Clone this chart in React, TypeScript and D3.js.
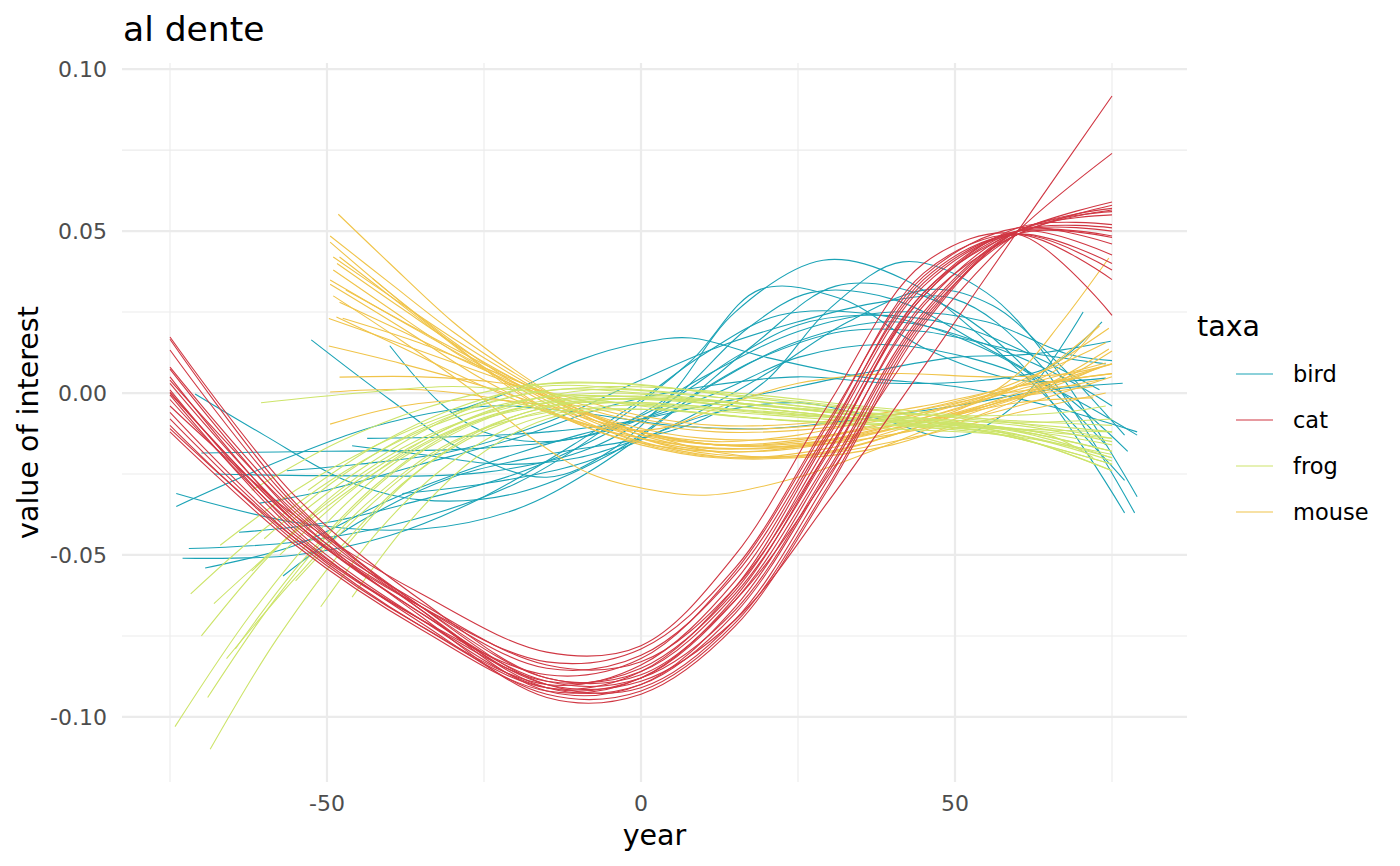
import React from "react";
import * as d3 from "d3";

type Pt = [number, number];

const taxa = ["bird", "cat", "frog", "mouse"];
const taxaColors: Record<string, string> = {
  bird: "#1BA3B6",
  cat: "#D03743",
  frog: "#CDE46A",
  mouse: "#F0C44A",
};

const xMajorTicks = [-50, 0, 50];
const xMinorTicks = [-75, -25, 25, 75];
const yMajorTicks = [-0.1, -0.05, 0, 0.05, 0.1];
const yMajorLabels = ["-0.10", "-0.05", "0.00", "0.05", "0.10"];
const yMinorTicks = [-0.075, -0.025, 0.025, 0.075];

// cat: values at fixed years
const catYears = [-75, -55, -35, -15, 0, 15, 30, 45, 60, 75];
const catValues: number[][] = [
  [0.000, -0.040, -0.068, -0.090, -0.089, -0.070, -0.033, 0.008, 0.050, 0.0917],
  [0.008, -0.036, -0.066, -0.088, -0.087, -0.064, -0.025, 0.018, 0.050, 0.074],
  [-0.004, -0.038, -0.062, -0.080, -0.078, -0.050, -0.003, 0.040, 0.049, 0.024],
  [0.0173, -0.032, -0.064, -0.088, -0.086, -0.062, -0.018, 0.031, 0.050, 0.059],
  [0.0166, -0.034, -0.067, -0.092, -0.090, -0.066, -0.021, 0.028, 0.049, 0.058],
  [0.0133, -0.035, -0.066, -0.090, -0.091, -0.070, -0.026, 0.023, 0.049, 0.0565],
  [0.0074, -0.038, -0.069, -0.094, -0.093, -0.072, -0.029, 0.021, 0.050, 0.056],
  [0.005, -0.040, -0.068, -0.089, -0.088, -0.067, -0.023, 0.025, 0.050, 0.055],
  [0.003, -0.039, -0.065, -0.084, -0.083, -0.060, -0.017, 0.030, 0.051, 0.052],
  [0.001, -0.042, -0.070, -0.091, -0.088, -0.064, -0.020, 0.027, 0.050, 0.051],
  [0.0003, -0.040, -0.066, -0.085, -0.081, -0.056, -0.011, 0.034, 0.050, 0.0485],
  [-0.0006, -0.043, -0.071, -0.093, -0.092, -0.071, -0.028, 0.022, 0.049, 0.048],
  [-0.002, -0.041, -0.066, -0.083, -0.079, -0.054, -0.008, 0.036, 0.051, 0.046],
  [-0.006, -0.044, -0.070, -0.089, -0.085, -0.061, -0.015, 0.031, 0.050, 0.0426],
  [-0.008, -0.045, -0.072, -0.091, -0.086, -0.060, -0.013, 0.033, 0.049, 0.040],
  [-0.010, -0.046, -0.072, -0.090, -0.084, -0.058, -0.012, 0.035, 0.049, 0.038],
  [-0.011, -0.045, -0.070, -0.087, -0.082, -0.055, -0.009, 0.037, 0.049, 0.035],
  [0.004, -0.037, -0.067, -0.091, -0.090, -0.068, -0.024, 0.024, 0.050, 0.057],
  [-0.012, -0.047, -0.073, -0.092, -0.088, -0.063, -0.017, 0.030, 0.050, 0.050],
];

const birdLines: Pt[][] = [
  [[-52.5, 0.0164], [-40, -0.002], [-28, -0.018], [-15, -0.026], [-5, -0.018], [5, 0.0], [15, 0.025], [29, 0.041], [42, 0.035], [55, 0.016], [66, -0.004], [77, -0.027]],
  [[-57, -0.0565], [-45, -0.04], [-30, -0.026], [-15, -0.019], [0, -0.014], [10, -0.008], [20, 0.004], [30, 0.026], [41.7, 0.0405], [55, 0.031], [67, 0.005], [79, -0.032]],
  [[-40, 0.0146], [-32, -0.003], [-25, -0.012], [-15, -0.015], [-5, -0.011], [5, -0.002], [15, 0.011], [25, 0.021], [35, 0.024], [50, 0.021], [63, 0.011], [73, 0.001]],
  [[-74, -0.031], [-55, -0.04], [-35, -0.042], [-20, -0.036], [-8, -0.024], [5, -0.006], [18, 0.015], [31, 0.033], [45, 0.03], [60, 0.01], [77, -0.037]],
  [[-74, -0.035], [-55, -0.019], [-40, -0.009], [-24, -0.004], [-10, -0.006], [5, -0.01], [20, -0.011], [35, -0.008], [50, -0.004], [65, 0.001], [76.7, 0.003]],
  [[-71, -0.0003], [-60, -0.013], [-47, -0.027], [-35, -0.033], [-20, -0.031], [-5, -0.019], [10, 0.001], [25, 0.016], [40, 0.022], [55, 0.015], [68, 0.004], [75, -0.004]],
  [[-70, -0.0185], [-50, -0.018], [-25, -0.017], [-8, -0.013], [5, -0.004], [18, 0.01], [32, 0.019], [45, 0.019], [60, 0.013], [74, 0.009]],
  [[-68, -0.025], [-50, -0.0255], [-25, -0.0245], [-8, -0.017], [5, -0.002], [17, 0.02], [27, 0.031], [40, 0.029], [55, 0.014], [67, 0.0], [77.5, -0.018]],
  [[-72, -0.048], [-55, -0.046], [-38, -0.04], [-20, -0.028], [-5, -0.01], [8, 0.01], [19, 0.032], [32, 0.029], [45, 0.014], [60, 0.004], [74, 0.0046]],
  [[-73, -0.051], [-55, -0.05], [-40, -0.044], [-25, -0.032], [-10, -0.015], [0, -0.002], [10, 0.012], [22, 0.024], [38, 0.024], [52, 0.016], [64, 0.003], [74, -0.016]],
  [[-69.4, -0.054], [-55, -0.047], [-40, -0.033], [-25, -0.022], [-10, -0.013], [5, -0.006], [20, 0.0], [35, 0.006], [50, 0.011], [62, 0.012], [74.8, 0.016]],
  [[-56.4, -0.024], [-45, -0.022], [-30, -0.018], [-15, -0.009], [0, 0.004], [12, 0.014], [25, 0.022], [38, 0.028], [50, 0.029], [63, 0.01], [78.6, -0.037]],
  [[-43.6, -0.014], [-30, -0.0135], [-15, -0.012], [0, -0.008], [12, 0.0], [25, 0.011], [38, 0.015], [52, 0.011], [65, 0.002], [79, -0.013]],
  [[-46, -0.0163], [-35, -0.019], [-22, -0.022], [-10, -0.02], [0, -0.014], [12, -0.006], [25, -0.003], [38, -0.008], [50, -0.0136], [60, -0.003], [70.4, 0.025]],
  [[-60.7, -0.034], [-50, -0.03], [-35, -0.022], [-20, -0.014], [-5, -0.004], [10, 0.002], [25, 0.005], [40, 0.003], [55, 0.004], [65, 0.008], [73.4, 0.022]],
  [[-30, -0.006], [-20, 0.001], [-10, 0.01], [0, 0.0155], [8, 0.017], [20, 0.011], [35, 0.005], [50, 0.002], [65, -0.004], [79, -0.012]],
  [[-38, -0.031], [-25, -0.028], [-10, -0.022], [5, -0.01], [20, 0.006], [33, 0.022], [46, 0.032], [56, 0.027], [66, 0.01], [77, -0.013]],
  [[-64, -0.043], [-50, -0.04], [-35, -0.033], [-20, -0.025], [-5, -0.012], [10, 0.005], [25, 0.019], [40, 0.025], [55, 0.022], [68, 0.012], [75, 0.01]],
];

const frogLines: Pt[][] = [
  [[-74.2, -0.103], [-62, -0.068], [-50, -0.04], [-38, -0.02], [-25, -0.008], [-10, -0.003], [5, -0.004], [25, -0.007], [45, -0.009], [60, -0.012], [75, -0.02]],
  [[-68.6, -0.11], [-58, -0.076], [-46, -0.045], [-34, -0.022], [-20, -0.008], [-5, -0.003], [15, -0.005], [35, -0.008], [55, -0.01], [75, -0.016]],
  [[-69, -0.094], [-58, -0.063], [-46, -0.036], [-34, -0.017], [-20, -0.005], [-5, -0.001], [15, -0.004], [35, -0.008], [55, -0.011], [75, -0.024]],
  [[-71.7, -0.062], [-60, -0.042], [-47, -0.024], [-33, -0.01], [-18, -0.002], [0, -0.001], [20, -0.004], [40, -0.008], [58, -0.012], [75, -0.02]],
  [[-68, -0.065], [-57, -0.046], [-45, -0.028], [-32, -0.013], [-18, -0.004], [0, -0.003], [20, -0.006], [40, -0.009], [58, -0.011], [75, -0.014]],
  [[-67, -0.047], [-55, -0.03], [-42, -0.016], [-28, -0.005], [-14, 0.001], [0, 0.0], [20, -0.004], [40, -0.008], [58, -0.011], [75, -0.018]],
  [[-51, -0.066], [-42, -0.043], [-32, -0.024], [-20, -0.01], [-5, -0.004], [15, -0.006], [35, -0.009], [55, -0.012], [75, -0.022]],
  [[-46, -0.063], [-37, -0.04], [-27, -0.021], [-15, -0.008], [0, -0.005], [20, -0.008], [40, -0.011], [58, -0.013], [75, -0.019]],
  [[-60.5, -0.003], [-45, 0.0], [-30, 0.002], [-15, 0.0], [0, -0.004], [20, -0.008], [40, -0.01], [58, -0.011], [75, -0.012]],
  [[-57.5, -0.05], [-46, -0.03], [-34, -0.014], [-20, -0.003], [-5, 0.0], [15, -0.003], [35, -0.006], [55, -0.007], [67, -0.006], [74, -0.004]],
  [[-64.6, -0.079], [-54, -0.052], [-42, -0.028], [-30, -0.012], [-15, -0.003], [0, -0.002], [20, -0.005], [40, -0.009], [60, -0.013], [75, -0.021]],
  [[-56, -0.04], [-45, -0.024], [-32, -0.009], [-18, 0.002], [-3, 0.003], [15, -0.001], [35, -0.005], [55, -0.008], [75, -0.01]],
  [[-62, -0.055], [-50, -0.034], [-37, -0.017], [-23, -0.005], [-8, 0.001], [10, -0.001], [30, -0.005], [50, -0.009], [65, -0.013], [72, -0.02]],
  [[-53, -0.03], [-42, -0.016], [-30, -0.005], [-16, 0.002], [0, 0.001], [20, -0.003], [40, -0.007], [60, -0.01], [75, -0.015]],
  [[-66, -0.082], [-55, -0.057], [-43, -0.033], [-30, -0.015], [-15, -0.006], [0, -0.005], [20, -0.008], [40, -0.01], [60, -0.014], [75, -0.024]],
  [[-60, -0.045], [-48, -0.026], [-35, -0.011], [-20, -0.001], [-5, 0.002], [15, 0.0], [35, -0.004], [55, -0.008], [75, -0.014]],
  [[-55, -0.058], [-45, -0.038], [-33, -0.019], [-20, -0.007], [-5, -0.002], [15, -0.003], [35, -0.007], [55, -0.01], [75, -0.018]],
  [[-62, -0.03], [-48, -0.015], [-35, -0.005], [-20, 0.002], [-5, 0.003], [12, 0.0], [32, -0.004], [52, -0.008], [70, -0.011], [75, -0.012]],
  [[-48, -0.048], [-38, -0.028], [-26, -0.012], [-12, -0.003], [5, -0.002], [25, -0.005], [45, -0.008], [62, -0.009], [75, -0.008]],
  [[-70, -0.075], [-60, -0.052], [-48, -0.03], [-35, -0.014], [-20, -0.004], [-5, -0.001], [15, -0.004], [35, -0.008], [55, -0.012], [75, -0.022]],
];

const mouseLines: Pt[][] = [
  [[-48.2, 0.0552], [-40, 0.04], [-30, 0.022], [-20, 0.007], [-10, -0.005], [0, -0.013], [10, -0.017], [25, -0.016], [40, -0.01], [55, -0.002], [65, 0.008], [74.5, 0.02]],
  [[-49.5, 0.0485], [-40, 0.034], [-30, 0.019], [-20, 0.006], [-10, -0.005], [0, -0.012], [12, -0.016], [25, -0.015], [40, -0.009], [55, -0.001], [66, 0.007], [73, 0.0213]],
  [[-49.5, 0.0466], [-40, 0.031], [-30, 0.016], [-20, 0.003], [-10, -0.007], [0, -0.014], [12, -0.018], [25, -0.017], [40, -0.011], [55, -0.004], [65, 0.003], [74.5, 0.0136]],
  [[-48.4, 0.04], [-38, 0.026], [-28, 0.013], [-18, 0.002], [-8, -0.008], [3, -0.014], [15, -0.016], [30, -0.013], [45, -0.006], [60, 0.002], [74, 0.0093]],
  [[-49, 0.038], [-40, 0.026], [-30, 0.013], [-20, 0.002], [-10, -0.008], [2, -0.016], [15, -0.02], [30, -0.018], [45, -0.01], [60, -0.001], [73, 0.0077]],
  [[-49.5, 0.0349], [-38, 0.022], [-25, 0.008], [-12, -0.004], [0, -0.012], [12, -0.015], [25, -0.013], [40, -0.007], [55, 0.0], [68, 0.01], [74, 0.0155]],
  [[-49.5, 0.0336], [-38, 0.02], [-25, 0.004], [-12, -0.008], [0, -0.016], [12, -0.02], [28, -0.019], [45, -0.01], [60, 0.0], [75, 0.009]],
  [[-47, 0.0318], [-35, 0.019], [-22, 0.006], [-10, -0.005], [0, -0.012], [12, -0.016], [28, -0.015], [42, -0.01], [52, -0.004], [60, 0.006], [67, 0.022], [74.5, 0.0417]],
  [[-42.8, 0.0355], [-35, 0.023], [-25, 0.008], [-15, -0.005], [-5, -0.013], [5, -0.017], [18, -0.018], [32, -0.014], [48, -0.006], [62, 0.002], [75, 0.006]],
  [[-49.7, 0.023], [-38, 0.015], [-25, 0.006], [-12, -0.003], [0, -0.009], [12, -0.012], [28, -0.011], [45, -0.006], [60, 0.002], [73, 0.0207]],
  [[-48.5, 0.0235], [-38, 0.014], [-25, 0.002], [-12, -0.008], [0, -0.014], [12, -0.017], [28, -0.016], [45, -0.009], [60, -0.003], [72, -0.0015]],
  [[-47.5, 0.0231], [-36, 0.016], [-24, 0.007], [-12, -0.002], [0, -0.008], [12, -0.011], [28, -0.01], [45, -0.005], [58, 0.0], [70, 0.0025]],
  [[-49.7, 0.0145], [-38, 0.009], [-25, 0.002], [-12, -0.006], [0, -0.012], [12, -0.016], [28, -0.016], [45, -0.011], [60, -0.004], [75, 0.005]],
  [[-48, 0.0049], [-35, 0.005], [-22, 0.003], [-10, -0.002], [0, -0.007], [12, -0.01], [28, -0.009], [45, -0.004], [60, 0.002], [75, 0.006]],
  [[-49.5, -0.0096], [-38, -0.004], [-25, -0.002], [-12, -0.005], [0, -0.012], [11, -0.018], [25, -0.02], [40, -0.016], [55, -0.006], [68, 0.005], [75, 0.013]],
  [[-49, 0.03], [-38, 0.016], [-27, 0.001], [-17, -0.0145], [-8, -0.025], [2, -0.03], [11, -0.0315], [25, -0.026], [38, -0.017], [50, -0.008], [63, 0.0], [73, 0.004]],
  [[-49.5, 0.0003], [-35, 0.001], [-20, -0.003], [-8, -0.01], [3, -0.017], [15, -0.02], [30, -0.017], [45, -0.009], [58, -0.002], [72, 0.002]],
  [[-48, 0.042], [-38, 0.027], [-28, 0.012], [-18, -0.002], [-8, -0.01], [3, -0.011], [13, -0.004], [25, 0.003], [40, 0.006], [55, 0.005], [68, 0.006], [75, 0.009]],
  [[-49, 0.042], [-40, 0.03], [-30, 0.017], [-20, 0.005], [-10, -0.006], [0, -0.014], [12, -0.019], [28, -0.019], [45, -0.013], [60, -0.006], [74, 0.0]],
  [[-48, 0.028], [-38, 0.019], [-26, 0.008], [-14, -0.002], [-2, -0.01], [10, -0.014], [25, -0.014], [40, -0.01], [55, -0.004], [67, 0.003], [73, 0.008]],
];

const FONT = "'DejaVu Sans', sans-serif";

export default function App() {
  const left = 122, right = 1187, top = 63, bottom = 782;
  const x = d3.scaleLinear().domain([-82.64, 86.94]).range([left, right]);
  const y = d3.scaleLinear().domain([-0.1201, 0.1019]).range([bottom, top]);
  const line = d3
    .line<Pt>()
    .x((d) => x(d[0]))
    .y((d) => y(d[1]))
    .curve(d3.curveCatmullRom.alpha(0.5));

  const catLines: Pt[][] = catValues.map((vals) => vals.map((v, i) => [catYears[i], v] as Pt));

  const groups: { key: string; lines: Pt[][] }[] = [
    { key: "bird", lines: birdLines },
    { key: "mouse", lines: mouseLines },
    { key: "frog", lines: frogLines },
    { key: "cat", lines: catLines },
  ];

  const grid = "#EBEBEB";
  const legendY0 = 374;
  const legendStep = 46;

  return (
    <svg
      width={1400}
      height={866}
      style={{ position: "absolute", left: 0, top: 0, background: "#fff" }}
      fontFamily={FONT}
    >
      <rect x={0} y={0} width={1400} height={866} fill="#fff" />
      {xMinorTicks.map((t) => (
        <line key={"xm" + t} x1={x(t)} x2={x(t)} y1={top} y2={bottom} stroke={grid} strokeWidth={1.1} />
      ))}
      {yMinorTicks.map((t) => (
        <line key={"ym" + t} x1={left} x2={right} y1={y(t)} y2={y(t)} stroke={grid} strokeWidth={1.1} />
      ))}
      {xMajorTicks.map((t) => (
        <line key={"xM" + t} x1={x(t)} x2={x(t)} y1={top} y2={bottom} stroke={grid} strokeWidth={2.2} />
      ))}
      {yMajorTicks.map((t) => (
        <line key={"yM" + t} x1={left} x2={right} y1={y(t)} y2={y(t)} stroke={grid} strokeWidth={2.2} />
      ))}

      {groups.map((g) => (
        <g key={g.key} fill="none" stroke={taxaColors[g.key]} strokeWidth={1.1}>
          {g.lines.map((l, i) => (
            <path key={i} d={line(l) || ""} />
          ))}
        </g>
      ))}

      {yMajorTicks.map((t, i) => (
        <text
          key={"yl" + t}
          x={left - 15}
          y={y(t)}
          dy="0.36em"
          textAnchor="end"
          fontSize={22}
          fill="#4D4D4D"
        >
          {yMajorLabels[i]}
        </text>
      ))}
      {xMajorTicks.map((t) => (
        <text key={"xl" + t} x={x(t)} y={811} textAnchor="middle" fontSize={22} fill="#4D4D4D">
          {t}
        </text>
      ))}

      <text x={(left + right) / 2} y={845} textAnchor="middle" fontSize={28.5} fill="#000">
        year
      </text>
      <text
        transform={`translate(38, ${(top + bottom) / 2}) rotate(-90)`}
        textAnchor="middle"
        fontSize={28.5}
        fill="#000"
      >
        value of interest
      </text>

      <text x={123} y={41} fontSize={34.5} fill="#000">
        al dente
      </text>

      <text x={1197} y={336} fontSize={28.5} fill="#000">
        taxa
      </text>
      {taxa.map((t, i) => (
        <g key={"lg" + t}>
          <line
            x1={1236}
            x2={1273}
            y1={legendY0 + i * legendStep}
            y2={legendY0 + i * legendStep}
            stroke={taxaColors[t]}
            strokeWidth={1.1}
          />
          <text x={1293} y={legendY0 + i * legendStep} dy="0.36em" fontSize={22.5} fill="#000">
            {t}
          </text>
        </g>
      ))}
    </svg>
  );
}
